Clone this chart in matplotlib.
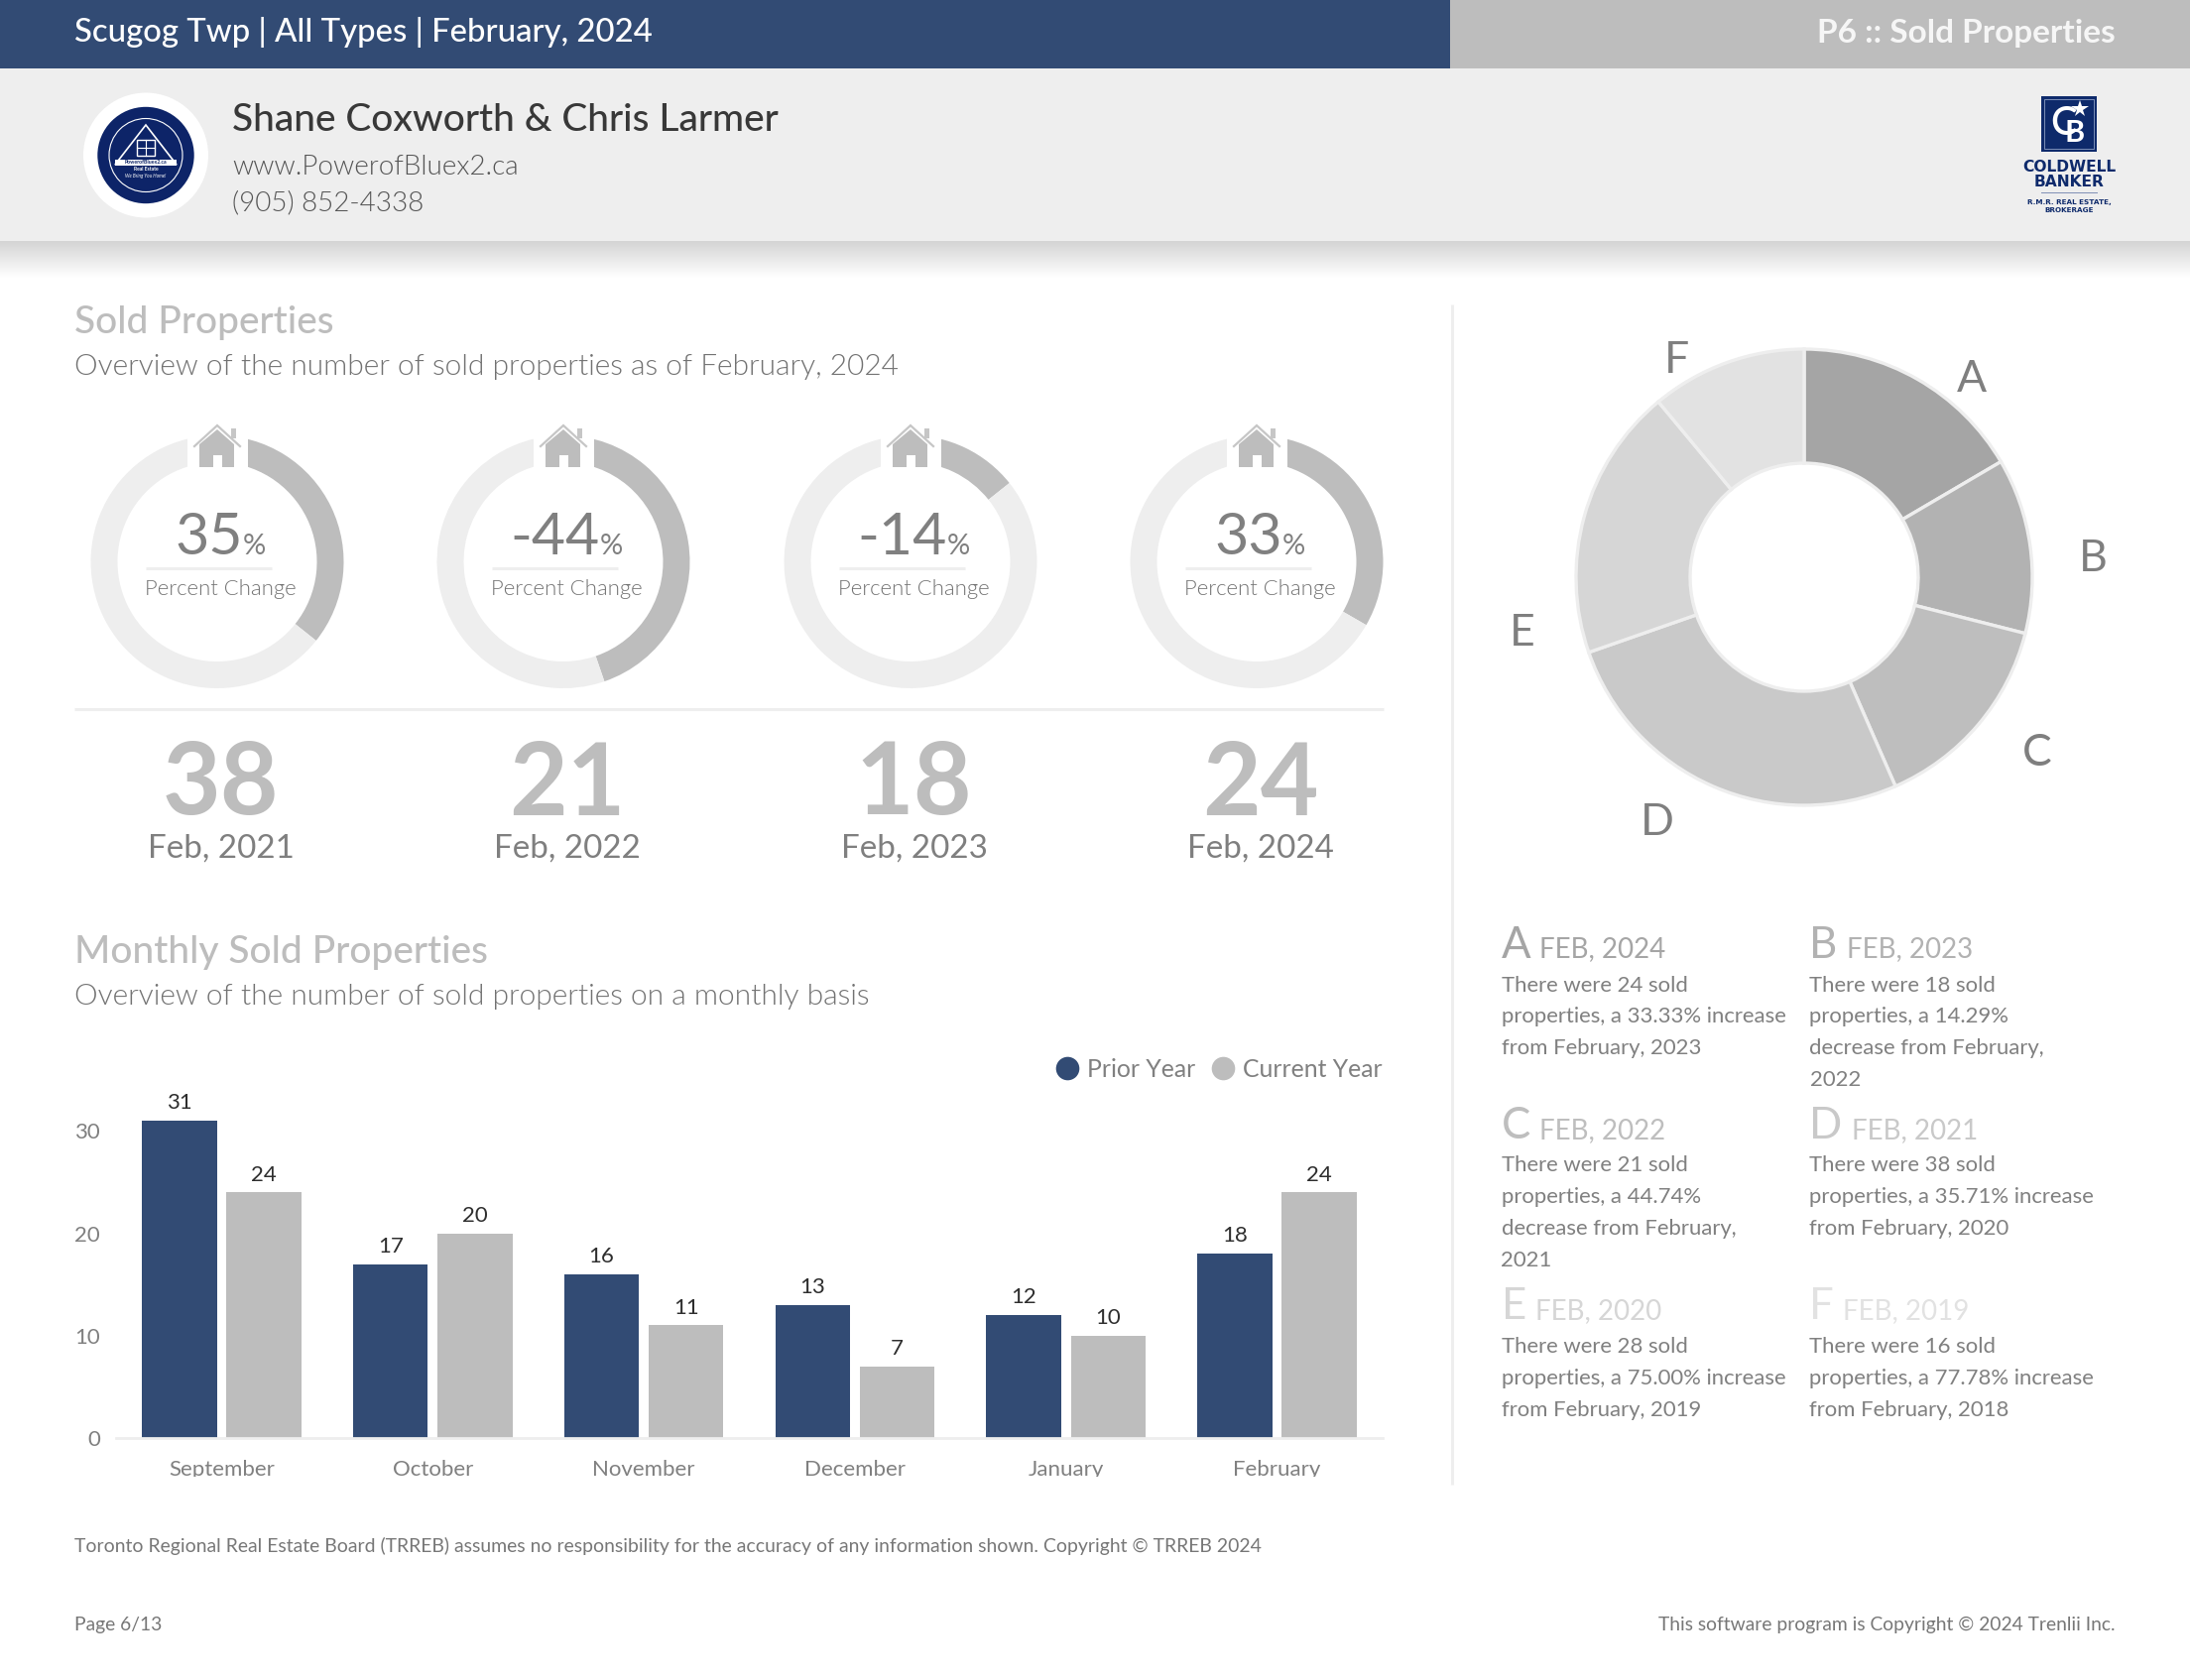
import numpy as np
import matplotlib
matplotlib.use("Agg")
import matplotlib.pyplot as plt
from matplotlib.lines import Line2D
from matplotlib.patches import Circle, Polygon, Rectangle
from matplotlib.transforms import Bbox

# ---------- data ----------
months = ["September", "October", "November", "December", "January", "February"]
prior_year = [31, 17, 16, 13, 12, 18]
current_year = [24, 20, 11, 7, 10, 24]
y_ticks = [0, 10, 20, 30]

kpi_labels = ["35", "-44", "-14", "33"]
kpi_arc_pct = [35.71, 44.74, 14.29, 33.33]
kpi_counts = ["38", "21", "18", "24"]
kpi_dates = ["Feb, 2021", "Feb, 2022", "Feb, 2023", "Feb, 2024"]

pie_labels = ["A", "B", "C", "D", "E", "F"]
pie_values = [24, 18, 21, 38, 28, 16]
pie_colors = ["#a5a5a5", "#b2b2b2", "#bebebe", "#c9c9c9", "#d6d6d6", "#e2e2e2"]

note_dates = ["FEB, 2024", "FEB, 2023", "FEB, 2022", "FEB, 2021", "FEB, 2020", "FEB, 2019"]
note_bodies = [
    ["There were 24 sold", "properties, a 33.33% increase", "from February, 2023"],
    ["There were 18 sold", "properties, a 14.29%", "decrease from February,", "2022"],
    ["There were 21 sold", "properties, a 44.74%", "decrease from February,", "2021"],
    ["There were 38 sold", "properties, a 35.71% increase", "from February, 2020"],
    ["There were 28 sold", "properties, a 75.00% increase", "from February, 2019"],
    ["There were 16 sold", "properties, a 77.78% increase", "from February, 2018"],
]

# ---------- styles ----------
W, H = 2208, 1694
NAVY = "#324b74"
GRAY = "#bdbdbd"
LIGHT = "#eeeeee"
TXT = "#808080"
SOFT = "#727272"
label_angle = [39.8, 85.7, 126.5, 211.3, 259.4, 330.0]
label_radius = [264, 292, 292, 285, 289, 256]
plt.rcParams["font.family"] = ["Lato", "DejaVu Sans"]

fig = plt.figure(figsize=(W / 100, H / 100), dpi=100, facecolor="white")


def px_axes(x0, y0, x1, y1, **kw):
    return fig.add_axes([x0 / W, 1 - y1 / H, (x1 - x0) / W, (y1 - y0) / H], **kw)


bg = px_axes(0, 0, W, H, zorder=0)
bg.set_xlim(0, W); bg.set_ylim(H, 0); bg.axis("off")
ov = px_axes(0, 0, W, H, zorder=5)
ov.set_xlim(0, W); ov.set_ylim(H, 0); ov.axis("off"); ov.patch.set_alpha(0)


def T(x, y, s, size, color=TXT, weight=400, ha="left", va="baseline", ax=ov, **kw):
    return ax.text(x, y, s, fontsize=size, color=color, fontweight=weight, ha=ha, va=va, **kw)


# ---------- header ----------
bg.add_patch(Rectangle((0, 0), 1462, 69, color=NAVY, lw=0))
bg.add_patch(Rectangle((1462, 0), W - 1462, 69, color=GRAY, lw=0))
bg.add_patch(Rectangle((0, 69), W, 174, color=LIGHT, lw=0))
shade = np.linspace(0, 1, 40).reshape(-1, 1)
bg.imshow(shade, extent=(0, W, 280, 243), cmap=matplotlib.colors.LinearSegmentedColormap.from_list("s", ["#d4d4d4", "#ffffff"]),
          aspect="auto", zorder=1)
bg.set_xlim(0, W); bg.set_ylim(H, 0)
T(75, 42.5, "Scugog Twp | All Types | February, 2024", 23.7, "white", 500)
T(2133, 42.5, "P6 :: Sold Properties", 24, "#f6f6f6", 700, ha="right")
T(234, 132, "Shane Coxworth & Chris Larmer", 28, "#383838", 500)
T(234, 175.5, "www.PowerofBluex2.ca", 20, "#555555", 300)
T(234, 212, "(905) 852-4338", 20, "#555555", 300)

# round logo
LOGO = "#0d2468"
lc = 156.5
ov.add_patch(Circle((147, lc), 63, color="white", lw=0))
ov.add_patch(Circle((147, lc), 48.7, color=LOGO, lw=0))
ov.add_patch(Circle((147, lc), 37, fill=False, ec="white", lw=0.8))
ov.add_patch(Polygon([(147, 126), (116, 166), (178, 166)], closed=True, fill=False, ec="white", lw=1.2))
ov.add_patch(Rectangle((138, 140.7), 17.5, 16, fill=False, ec="white", lw=1))
ov.plot([146.8, 146.8], [140.7, 156.7], color="white", lw=0.8)
ov.plot([138, 155.5], [148.7, 148.7], color="white", lw=0.8)
ov.add_patch(Rectangle((116, 160.7), 62, 6, color="white", lw=0))
T(147, 163.7, "PowerofBluex2.ca", 3.8, LOGO, 700, ha="center", va="center")
T(147, 170.7, "Real Estate", 3.6, "white", 700, ha="center", va="center")
T(147, 177.7, "We Bring You Home!", 3.4, "white", 400, ha="center", va="center", style="italic")

# brokerage logo
CB = "#0e2a6b"
ov.add_patch(Rectangle((2058, 97), 56, 56, color=CB, lw=0))
ov.add_patch(Rectangle((2061, 100), 50, 50, fill=False, ec="#8fa0c4", lw=0.6))
T(2081, 124, "C", 29, "white", 500, ha="center", va="center")
T(2092, 134, "B", 22, "white", 700, ha="center", va="center")
ov.plot([2097], [110], marker="*", ms=13, color="white", mew=0)
T(2086.5, 172.7, "COLDWELL", 11.2, CB, 700, ha="center", family="DejaVu Sans")
T(2086.5, 188, "BANKER", 11.2, CB, 700, ha="center", family="DejaVu Sans")
ov.plot([2058, 2114], [194, 194], color="#7f8fb5", lw=0.7)
T(2086.5, 206, "R.M.R. REAL ESTATE,", 5.2, CB, 700, ha="center", family="DejaVu Sans")
T(2086.5, 214, "BROKERAGE", 5.2, CB, 700, ha="center", family="DejaVu Sans")

# ---------- section titles ----------
T(75, 336, "Sold Properties", 28, GRAY, 500)
T(75, 378, "Overview of the number of sold properties as of February, 2024", 21.5, SOFT, 300)
T(75, 970.5, "Monthly Sold Properties", 28, GRAY, 500)
T(75, 1013, "Overview of the number of sold properties on a monthly basis", 21.5, SOFT, 300)

# dividers
bg.plot([75, 1395], [715, 715], color=LIGHT, lw=2.2, solid_capstyle="butt")
bg.plot([1464, 1464], [307, 1497], color=LIGHT, lw=2.2, solid_capstyle="butt")

# ---------- KPI rings ----------
ring_cx = [219, 568, 918, 1267]
ring_cy, ring_r = 566.5, 127.5
text_dx = 3.5
renderer = fig.canvas.get_renderer()
for cx, label, pct, count, date in zip(ring_cx, kpi_labels, kpi_arc_pct, kpi_counts, kpi_dates):
    a = px_axes(cx - ring_r, ring_cy - ring_r, cx + ring_r, ring_cy + ring_r, zorder=2)
    a.pie([pct, 100 - pct], colors=[GRAY, LIGHT], startangle=90, counterclock=False, radius=1.0,
          wedgeprops=dict(width=27 / ring_r, lw=0))
    a.set_xlim(-1, 1); a.set_ylim(-1, 1)

    # opening in the ring and the house sitting in it
    ov.add_patch(Rectangle((cx - 30.5, 430), 61, 42, color="white", lw=0))
    ov.add_patch(Polygon([(cx - 18, 471), (cx - 18, 448), (cx, 433), (cx + 17, 448), (cx + 17, 471)],
                         closed=True, color=GRAY, lw=0))
    ov.add_patch(Rectangle((cx - 4.5, 459), 9, 12, color="white", lw=0))
    ov.plot([cx - 23, cx, cx + 23], [450, 429, 450], color="#c6c6c6", lw=1.6, solid_joinstyle="miter")
    ov.add_patch(Rectangle((cx + 13.5, 432.5), 5, 10, color="#c6c6c6", lw=0))

    tc = cx + text_dx
    big = T(tc, 559, label, 42.5, "#808080", 400, ha="left")
    small = T(tc, 559, "%", 21, "#808080", 400, ha="left")
    bw = big.get_window_extent(renderer).width
    sw = small.get_window_extent(renderer).width
    big.set_x(tc - (bw + sw) / 2)
    small.set_x(tc - (bw + sw) / 2 + bw)
    ov.plot([cx - 72, cx + 55], [572.7, 572.7], color=LIGHT, lw=2.2, solid_capstyle="butt")
    T(tc, 600, "Percent Change", 15.9, SOFT, 300, ha="center")
    T(tc, 821.5, count, 73, GRAY, 700, ha="center")
    T(tc, 865, date, 23.9, "#7f7f7f", 400, ha="center")

# ---------- monthly bars ----------
ax = px_axes(117, 1450 - 35 * 10.32, 1394, 1450, zorder=2)
x = np.arange(len(months))
bw_ = 0.355
off = 0.2
b1 = ax.bar(x - off, prior_year, bw_, color=NAVY, label="Prior Year")
b2 = ax.bar(x + off, current_year, bw_, color=GRAY, label="Current Year")
for bars in (b1, b2):
    for rect in bars:
        ax.annotate(f"{int(rect.get_height())}", (rect.get_x() + rect.get_width() / 2, rect.get_height()),
                    xytext=(0, 5.6), textcoords="offset points", ha="center", va="bottom",
                    fontsize=16, color="#2e2e2e")
ax.set_xlim(-0.5, 5.5); ax.set_ylim(0, 35)
ax.set_yticks(y_ticks)
ax.set_xticks(x, months)
ax.tick_params(axis="both", length=0, labelsize=16, labelcolor=TXT)
ax.tick_params(axis="y", pad=11.5)
ax.tick_params(axis="x", pad=16)
for s in ("top", "left", "right"):
    ax.spines[s].set_visible(False)
ax.spines["bottom"].set_color(LIGHT)
ax.spines["bottom"].set_linewidth(2)
clip = Bbox.from_extents(0, H - 1489, W, H)
for lab in ax.get_xticklabels():
    lab.set_clip_on(True)
    lab.set_clip_box(clip)
handles = [Line2D([], [], marker="o", ls="", ms=17, mew=0, color=NAVY),
           Line2D([], [], marker="o", ls="", ms=17, mew=0, color=GRAY)]
fig.legend(handles, ["Prior Year", "Current Year"], loc="center right",
           bbox_to_anchor=(1394 / W, 1 - 1078 / H), frameon=False, ncol=2, fontsize=17.8,
           labelcolor="#808080", handlelength=1.0, handletextpad=0.31, columnspacing=0.64,
           borderpad=0, borderaxespad=0)

# ---------- share ring ----------
pie_cx, pie_cy, pie_r = 1819, 582, 230
pa = px_axes(pie_cx - pie_r, pie_cy - pie_r, pie_cx + pie_r, pie_cy + pie_r, zorder=2)
wedges, _ = pa.pie(pie_values, colors=pie_colors, startangle=90, counterclock=False, radius=1.0,
                   wedgeprops=dict(width=0.5, edgecolor=LIGHT, linewidth=2.4))
pa.set_xlim(-1, 1); pa.set_ylim(-1, 1)
for name, ang, rad in zip(pie_labels, label_angle, label_radius):
    t = np.deg2rad(ang)
    pa.text(rad * np.sin(t) / pie_r, (rad * np.cos(t) - 16) / pie_r, name, fontsize=32, color="#7f7f7f",
            ha="center", va="baseline", clip_on=False)

# ---------- notes ----------
col_x = [1513.5, 1824.5]
row_head = [965.5, 1148.5, 1330]
row_body = [999.5, 1181, 1364]
line_h = 31.9
for i, (name, date, body, col) in enumerate(zip(pie_labels, note_dates, note_bodies, pie_colors)):
    cx = col_x[i % 2]
    r = i // 2
    h = T(cx, row_head[r], name, 31.5, col, 400)
    lw_ = h.get_window_extent(renderer).width
    T(cx + lw_ + 9, row_head[r], date, 20, col, 400)
    for k, line in enumerate(body):
        T(cx, row_body[r] + k * line_h, line, 15.95, TXT, 400)

# ---------- footer ----------
T(75, 1565, "Toronto Regional Real Estate Board (TRREB) assumes no responsibility for the accuracy of any information shown. Copyright © TRREB 2024", 13.95, "#777777", 400)
T(75, 1644, "Page 6/13", 13.9, "#777777", 400)
T(2133, 1644, "This software program is Copyright © 2024 Trenlii Inc.", 13.9, "#777777", 400, ha="right")

fig.savefig("out.png", dpi=100)
